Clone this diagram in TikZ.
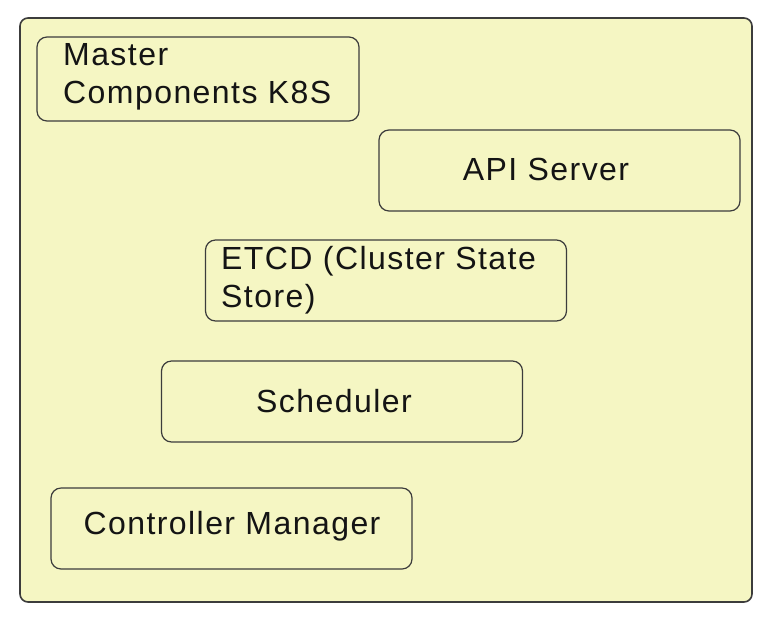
\documentclass[tikz,border=0pt]{standalone}
\usepackage{fontspec}
\setmainfont{Liberation Sans}
\usepackage{tikz}
\definecolor{paneyellow}{RGB}{245, 246, 195}
\definecolor{edgegray}{RGB}{60, 60, 60}
\definecolor{inkblack}{RGB}{20, 20, 20}

\tikzset{
  pane/.style={draw=edgegray,line width=1.6pt,fill=paneyellow,rounded corners=8pt},
  compbox/.style={draw=edgegray,line width=1.2pt,fill=paneyellow,rounded corners=10pt,
    minimum width=361pt,minimum height=81pt,inner sep=0pt},
  complabel/.style={inner sep=0pt,text=inkblack,align=left,
    font=\fontsize{32}{37.5}\selectfont\addfontfeatures{LetterSpace=4.5}}
}

\begin{document}
\begin{tikzpicture}[x=1pt,y=-1pt]
  \useasboundingbox (0,0) rectangle (781,622);
  \node[pane,minimum width=732pt,minimum height=584pt] (master) at (386,310) {};

  \node[compbox,minimum width=322pt,minimum height=84pt] (k8s) at (198,79) {};
  \node[complabel,anchor=north west] (k8slabel) at (63,43.5) {Master\\Components K8S};

  \node[compbox] (api) at (559.5,170.5) {};
  \node[complabel] (apilabel) at (546,169.5) {API Server};

  \node[compbox] (etcd) at (386,280.5) {};
  \node[complabel,anchor=north west] (etcdlabel) at (221,246.5) {ETCD (Cluster State\\Store)};

  \node[compbox] (sched) at (342,401.5) {};
  \node[complabel] (schedlabel) at (334,401.5) {Scheduler};

  \node[compbox] (ctrl) at (231.5,528.5) {};
  \node[complabel] (ctrllabel) at (232,526.5) {Controller Manager};
\end{tikzpicture}
\end{document}
